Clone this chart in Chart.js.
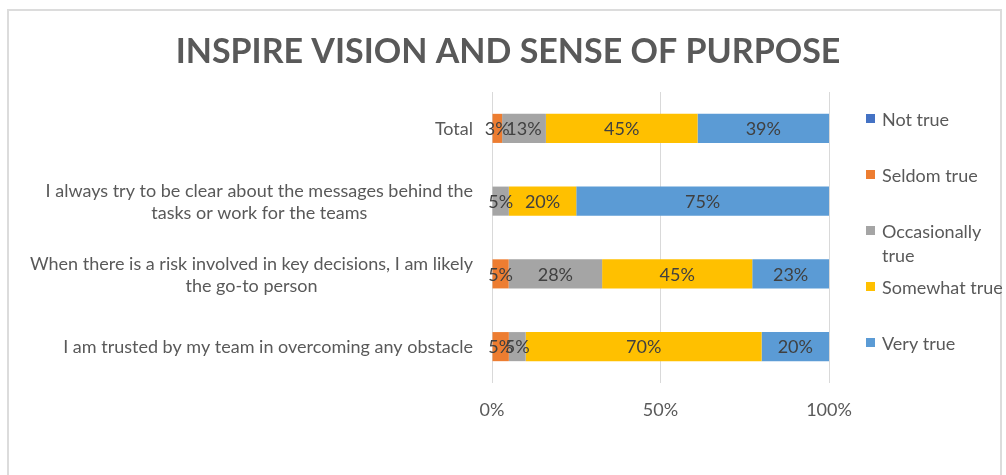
<!DOCTYPE html>
<html>
<head>
<meta charset="utf-8">
<script src="https://cdn.jsdelivr.net/npm/chart.js@4.4.1/dist/chart.umd.min.js"></script>
<style>
  html, body { margin: 0; padding: 0; background: #fff; }
  #wrap { position: relative; width: 1006px; height: 475px; overflow: hidden; }
  #frame { position: absolute; left: 7px; top: 9px; width: 995px; height: 490px; border: 2px solid #dcdcdc; box-sizing: border-box; }
  canvas { position: absolute; left: 0; top: 0; }
</style>
</head>
<body>
<div id="wrap">
  <div id="frame"></div>
  <canvas id="chart" width="1006" height="475"></canvas>
</div>
<script>
const chartTitle = 'INSPIRE VISION AND SENSE OF PURPOSE';
const categories = [
  'Total',
  ['I always try to be clear about the messages behind the', 'tasks or work for the teams'],
  ['When there is a risk involved in key decisions, I am likely', 'the go-to person'],
  'I am trusted by my team in overcoming any obstacle'
];
const seriesNames = ['Not true', 'Seldom true', 'Occasionally true', 'Somewhat true', 'Very true'];
const notTrue = [0, 0, 0, 0];
const seldomTrue = [3, 0, 5, 5];
const occasionallyTrue = [13, 5, 28, 5];
const somewhatTrue = [45, 20, 45, 70];
const veryTrue = [39, 75, 23, 20];
const xTicks = [0, 50, 100];
const seriesColors = ['#4472C4', '#ED7D31', '#A5A5A5', '#FFC000', '#5B9BD5'];

const FONT_FAMILY = 'Lato, "Open Sans", sans-serif';
const FONT_SIZE = 18;
const TEXT_GREY = '#595959';

const allSeries = [notTrue, seldomTrue, occasionallyTrue, somewhatTrue, veryTrue];
// 100% stacked: each row is scaled to its own total, like the spreadsheet does
const rowTotals = categories.map((c, i) => allSeries.reduce((s, arr) => s + arr[i], 0));

const datasets = allSeries.map((arr, k) => ({
  label: seriesNames[k],
  raw: arr,
  data: arr.map((v, i) => v / rowTotals[i] * 100),
  backgroundColor: seriesColors[k],
  borderWidth: 0,
  barPercentage: 0.4,
  categoryPercentage: 1
}));

// title drawn by hand so it can sit over the whole picture, not just the plot
const titlePlugin = {
  id: 'bigTitle',
  afterDraw(chart) {
    const ctx = chart.ctx;
    ctx.save();
    ctx.font = 'bold 34px ' + FONT_FAMILY;
    ctx.fillStyle = TEXT_GREY;
    ctx.textAlign = 'center';
    ctx.textBaseline = 'middle';
    ctx.fillText(chartTitle, 508, 52);
    ctx.restore();
  }
};

// category labels: block right-aligned to the axis, lines centred inside the block
const yLabels = {
  id: 'yLabels',
  afterDraw(chart) {
    const ctx = chart.ctx;
    const yScale = chart.scales.y;
    ctx.save();
    ctx.font = FONT_SIZE + 'px ' + FONT_FAMILY;
    ctx.fillStyle = TEXT_GREY;
    ctx.textAlign = 'center';
    ctx.textBaseline = 'middle';
    categories.forEach((lab, i) => {
      const lines = Array.isArray(lab) ? lab : [lab];
      const w = Math.max(...lines.map(l => ctx.measureText(l).width));
      const cx = chart.chartArea.left - 19 - w / 2;
      const cy = yScale.getPixelForValue(i);
      lines.forEach((l, k) => {
        ctx.fillText(l, cx, cy + 1 + (k - (lines.length - 1) / 2) * 22);
      });
    });
    ctx.restore();
  }
};

const barLabels = {
  id: 'barLabels',
  afterDatasetsDraw(chart) {
    const ctx = chart.ctx;
    ctx.save();
    ctx.font = FONT_SIZE + 'px ' + FONT_FAMILY;
    ctx.fillStyle = '#404040';
    ctx.textAlign = 'center';
    ctx.textBaseline = 'middle';
    chart.data.datasets.forEach((ds, di) => {
      const meta = chart.getDatasetMeta(di);
      meta.data.forEach((bar, i) => {
        const v = ds.raw[i];
        if (!v) return;
        ctx.fillText(v + '%', (bar.x + bar.base) / 2, bar.y + 1);
      });
    });
    ctx.restore();
  }
};

// legend on the right, one item per series, long names wrap
const sideLegend = {
  id: 'sideLegend',
  afterDraw(chart) {
    const ctx = chart.ctx;
    const x0 = 866, y0 = 119, step = 56, maxW = 128;
    ctx.save();
    ctx.font = FONT_SIZE + 'px ' + FONT_FAMILY;
    ctx.textBaseline = 'middle';
    ctx.textAlign = 'left';
    chart.data.datasets.forEach((ds, i) => {
      const y = y0 + i * step;
      ctx.fillStyle = ds.backgroundColor;
      ctx.fillRect(x0, y - 5, 9, 9);
      ctx.fillStyle = TEXT_GREY;
      let lines = [ds.label];
      if (ctx.measureText(ds.label).width > maxW) {
        const words = ds.label.split(' ');
        lines = [words.slice(0, -1).join(' '), words[words.length - 1]];
      }
      lines.forEach((l, k) => ctx.fillText(l, x0 + 16, y + 1 + k * 24));
    });
    ctx.restore();
  }
};

new Chart(document.getElementById('chart').getContext('2d'), {
  type: 'bar',
  data: { labels: categories, datasets: datasets },
  options: {
    indexAxis: 'y',
    responsive: false,
    animation: false,
    layout: { padding: { left: 10, right: 177, top: 92, bottom: 0 } },
    scales: {
      x: {
        stacked: true,
        min: 0,
        max: 100,
        afterBuildTicks: (scale) => { scale.ticks = xTicks.map(v => ({ value: v })); },
        afterFit: (scale) => { scale.height = 92; },
        grid: { color: '#d9d9d9', drawTicks: false },
        border: { display: false },
        ticks: {
          padding: 16,
          color: TEXT_GREY,
          font: { family: FONT_FAMILY, size: FONT_SIZE },
          callback: (v) => v + '%'
        }
      },
      y: {
        stacked: true,
        afterFit: (scale) => { scale.width = 482; },
        grid: { display: false },
        border: { display: false },
        ticks: { display: false }
      }
    },
    plugins: {
      legend: { display: false },
      tooltip: { enabled: false },
      title: { display: false }
    }
  },
  plugins: [titlePlugin, yLabels, barLabels, sideLegend]
});
</script>
</body>
</html>
